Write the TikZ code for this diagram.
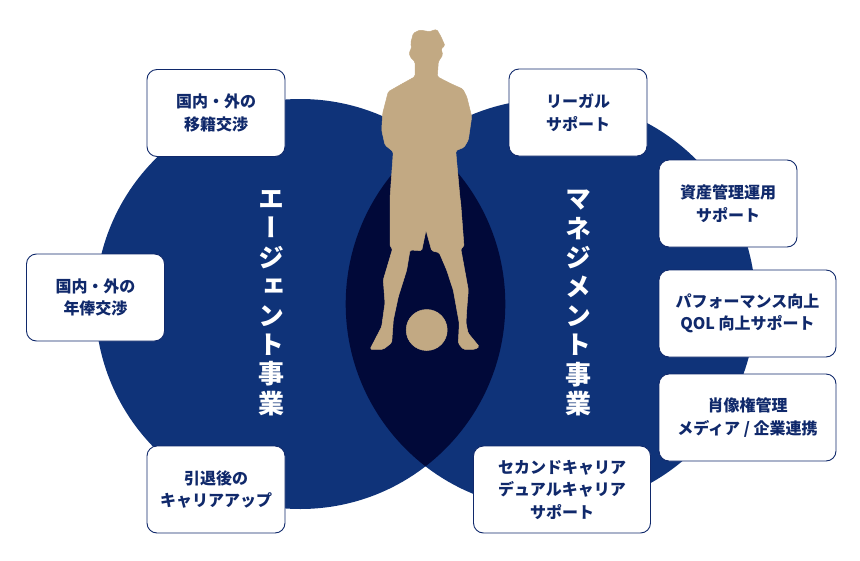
\documentclass[tikz,border=0pt]{standalone}
\usepackage{fontspec}
\setmainfont{Noto Sans CJK JP}
\newfontfamily\tatefont[RawFeature={+vert}]{Noto Sans CJK JP}
\usepackage{xcolor}
\usetikzlibrary{positioning}
\definecolor{navy}{HTML}{0F3379}
\definecolor{deep}{HTML}{010939}
\definecolor{tan}{HTML}{C2A983}
\definecolor{ink}{HTML}{10296B}
\tikzset{
	x=1pt,
	y=-1pt,
	service/.style={
		draw=ink,
		fill=white,
		line width=.9pt,
		rounded corners=10pt,
		align=center,
		text=ink,
		inner sep=0pt,
		font=\bfseries\fontsize{16}{22.5}\selectfont
	},
	small service/.style={
		service,
		minimum width=138,
		minimum height=87
	},
	wide service/.style={
		service,
		minimum width=177,
		minimum height=87
	},
	business/.style={
		align=center,
		text=white,
		inner sep=0pt,
		font=\bfseries\tatefont\fontsize{26}{29.2}\selectfont
	},
	player/.style={
		fill=tan,
		draw=tan,
		line width=.5pt
	}
}

\begin{document}
\begin{tikzpicture}
		\useasboundingbox (0,0) rectangle (860,560);
\fill[navy] (300.3,304) circle (205);
\fill[navy] (550.7,304) circle (205);
\begin{scope}
	\clip (300.3,304) circle (205);
	\fill[deep] (550.7,304) circle (205);
\end{scope}

\fill[player, rounded corners=1.5pt] (410.7,43.3) -- (413.3,33.3) -- (420,30) -- (429.3,31.7) -- (436.7,29.3)
	-- (441,36.7) -- (445,46) -- (441,48.3) -- (442.7,55) -- (438.3,61.7) -- (437.3,76.7)
	-- (450,83.3) -- (462.7,89) -- (466.7,96.7) -- (471.7,116.7) -- (468.3,140) -- (464,147.3) -- (455.7,150.7)
	-- (460,198.3) -- (460.7,203) -- (464,246.7) -- (460.7,248.3) -- (468.3,290) -- (466.7,310) -- (466,323)
	-- (468,333) -- (479.3,346.7) -- (475,349.3) -- (463.3,349.3) -- (458.3,343.3) -- (459.3,323.3)
	-- (453.3,290) -- (446.7,270) -- (439.3,252.7) -- (431.7,250.7) -- (426,230) -- (421.7,250.7) -- (410,250)
	-- (406.7,270) -- (398.3,296.7) -- (393.3,320) -- (391.7,342.7) -- (383.3,349.3) -- (370,349.3)
	-- (381.7,326.7) -- (385,303) -- (383.3,280) -- (392.7,248.3) -- (390,246.7) -- (390,198.3) -- (393.3,151.7)
	-- (385,145) -- (381.7,130) -- (382.7,113.3) -- (388.3,91.7) -- (400,85) -- (415,76.7) -- (415,61.7)
	-- (410,56.7) -- (409.3,51.7) -- (411.7,48.3) -- cycle;
\fill[player] (426.7,330) circle (20.5);

\node[small service] (transfer) at (216,113) {国内・外の\\移籍交渉};
\node[small service] (salary) at (95.5,297.5) {国内・外の\\年俸交渉};
\node[small service] (retire) at (216,489.5) {引退後の\\キャリアアップ};
\node[small service] (legal) at (578,112.5) {リーガル\\サポート};
\node[small service] (asset) at (728,203.5) {資産管理運用\\サポート};
\node[wide service] (qol) at (747.5,313.5) {パフォーマンス向上\\QOL 向上サポート};
\node[wide service] (portrait) at (747.5,417.5) {肖像権管理\\メディア / 企業連携};
\node[wide service] (career) at (562,489.5) {セカンドキャリア\\デュアルキャリア\\サポート};

\node[business] (agent) at (271.5,303) {エ\\ー\\ジ\\ェ\\ン\\ト\\事\\業};
\node[business] (manage) at (578,303) {マ\\ネ\\ジ\\メ\\ン\\ト\\事\\業};
	\end{tikzpicture}
\end{document}
